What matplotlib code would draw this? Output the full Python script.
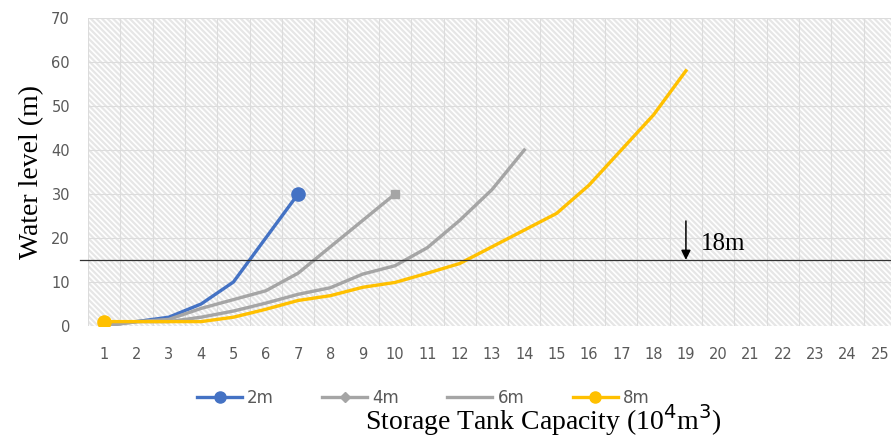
import numpy as np
import matplotlib.pyplot as plt
from matplotlib.legend_handler import HandlerLine2D
from matplotlib.lines import Line2D

# %% data
categories = list(range(1, 26))
x_2m = [1, 2, 3, 4, 5, 6, 7]
y_2m = [0.5, 1, 2, 5, 10, 20, 30]
x_4m = [1, 2, 3, 4, 5, 6, 7, 8, 9, 10]
y_4m = [0, 1, 1.5, 4, 6, 8, 12, 18, 24, 30]
x_6m = [1, 2, 3, 4, 5, 6, 7, 8, 9, 10, 11, 12, 13, 14]
y_6m = [0, 1, 1, 2, 3.4, 5.2, 7.2, 8.7, 11.8, 13.7, 17.8, 24, 31, 40]
x_8m = list(range(1, 20))
y_8m = [1, 1, 1, 1, 2, 3.8, 5.8, 6.9, 8.8, 9.9, 12, 14.2, 18, 21.8, 25.6, 32, 40, 48, 58]
threshold = 15
threshold_label = '18m'
arrow_x = 19

blue = '#4472C4'
gray = '#A5A5A5'
yellow = '#FFC000'
tick_gray = '#595959'

plt.rcParams['hatch.color'] = '#E6E6E6'
plt.rcParams['hatch.linewidth'] = 1.6
serif = ['Liberation Serif', 'DejaVu Serif']

# %%
fig = plt.figure(figsize=(8.91, 4.45), dpi=100)
ax = fig.add_axes([88 / 891, 119 / 445, 808 / 891, 308 / 445])
ax.set_xlim(0.5, 25.5)
ax.set_ylim(0, 70)
ax.patch.set_facecolor('white')
ax.patch.set_hatch('\\' * 6)
ax.patch.set_edgecolor('#E6E6E6')
ax.patch.set_linewidth(0)

for s in ax.spines.values():
    s.set_visible(False)

ax.set_xticks(categories)
ax.set_xticks(np.arange(0.5, 26, 1), minor=True)
ax.set_yticks(np.arange(0, 71, 10))
ax.tick_params(which='both', length=0)
ax.tick_params(axis='x', pad=15, labelsize=10.5, labelcolor=tick_gray)
ax.tick_params(axis='y', pad=13, labelsize=10.5, labelcolor=tick_gray)
ax.grid(True, which='minor', axis='x', color='#DCDCDC', linewidth=0.8)
ax.grid(True, which='major', axis='y', color='#DCDCDC', linewidth=0.8)
ax.set_axisbelow(True)

ax.plot(x_2m, y_2m, color=blue, lw=2.4, marker='o', ms=9.5, markevery=[len(x_2m) - 1])
ax.plot(x_4m, y_4m, color=gray, lw=2.4, marker='s', ms=6, markevery=[len(x_4m) - 1])
ax.plot(x_6m, y_6m, color=gray, lw=2.4)
ax.plot(x_8m, y_8m, color=yellow, lw=2.4, marker='o', ms=9.5, markevery=[0])

ax.plot([0.25, 25.5], [threshold, threshold], color='#333333', lw=0.9, clip_on=False)
ax.annotate('', xy=(arrow_x, threshold - 0.6), xytext=(arrow_x, threshold + 9.5),
            arrowprops=dict(arrowstyle='-|>', color='black', lw=1.1, mutation_scale=14))
ax.text(arrow_x + 0.45, threshold + 1.2, threshold_label, family=serif, fontsize=18, va='bottom')

ax.set_ylabel('Water level (m)', family=serif, fontsize=20, labelpad=5)
fig.text(0.61, 0.015, r'Storage Tank Capacity (10$^{4}$m$^{3}$)', family=serif,
         fontsize=20, ha='center', va='bottom')


# legend with marker placed at one end of the line
class EndMarker(HandlerLine2D):
    def __init__(self, at_end=True, **kw):
        super().__init__(**kw)
        self.at_end = at_end

    def get_xdata(self, legend, xdescent, ydescent, width, height, fontsize):
        xdata = np.array([-xdescent, -xdescent + width])
        xm = xdata[1:] if self.at_end else xdata[:1]
        return xdata, xm


h2 = Line2D([], [], color=blue, lw=2.4, marker='o', ms=8)
h4 = Line2D([], [], color=gray, lw=2.4, marker='D', ms=5)
h6 = Line2D([], [], color=gray, lw=2.4)
h8 = Line2D([], [], color=yellow, lw=2.4, marker='o', ms=8)
fig.legend([h2, h4, h6, h8], ['2m', '4m', '6m', '8m'], loc='center',
           bbox_to_anchor=(0.475, 0.105), ncol=4, frameon=False, fontsize=12,
           handlelength=2.7, handletextpad=0.3, columnspacing=2.9,
           handler_map={h2: EndMarker(True), h4: EndMarker(True), h8: EndMarker(False)},
           labelcolor=tick_gray)

plt.savefig('out.png', dpi=100)
